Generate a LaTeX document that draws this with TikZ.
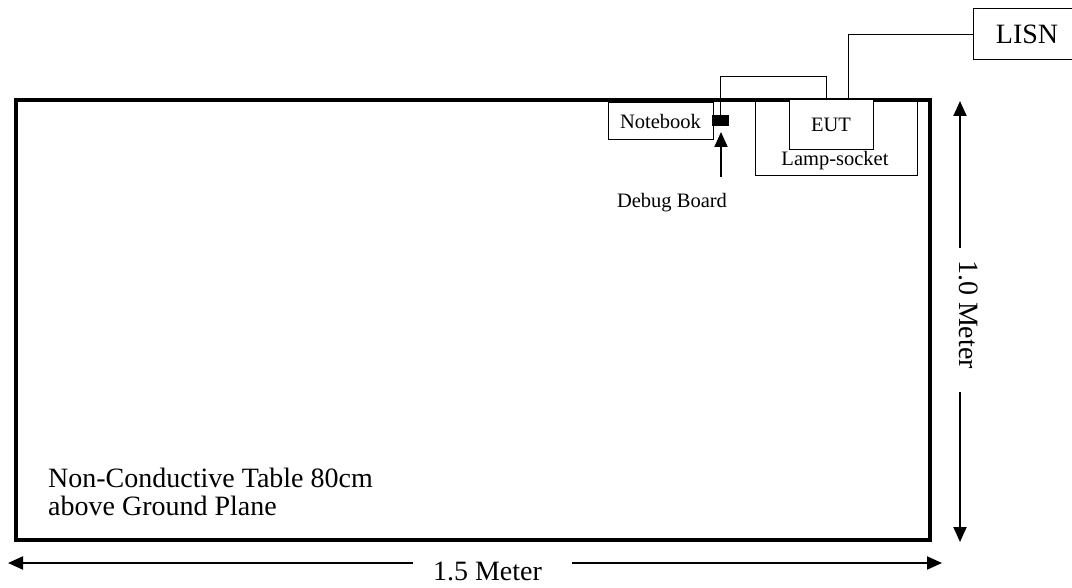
\documentclass[tikz,border=0pt]{standalone}
\usepackage{fontspec}
\setmainfont{Liberation Serif}
\usetikzlibrary{arrows.meta}
\begin{document}
\begin{tikzpicture}[x=1pt,y=-1pt,
  thin box/.style={draw,line width=1pt,inner sep=0pt},
  big/.style={font=\fontsize{28}{28}\selectfont},
  small/.style={font=\fontsize{20.5}{22}\selectfont},
  cable/.style={line width=1pt},
  ptr/.style={line width=2pt,-{Triangle[width=13pt,length=15pt]}},
  ptrback/.style={line width=2pt,{Triangle[width=13pt,length=15pt]}-}]
\useasboundingbox (0,0) rectangle (1072,588);
% table
\draw[line width=3.5pt] (16,100) rectangle (930,540);
\node[big,anchor=base west,align=left,inner sep=0pt] (tabletext) at (48,515) {Non-Conductive Table 80cm\\above Ground Plane};
% notebook
\node[thin box,minimum width=105pt,minimum height=37pt,small] (nb) at (660.5,121.5) {Notebook};
% debug board
\node[draw,fill=black,inner sep=0pt,minimum width=16pt,minimum height=10pt] (db) at (720.5,120.5) {};
\coordinate (dbtop) at (720,115);
\node[small,anchor=base,inner sep=0pt] (dbtext) at (672,208) {Debug Board};
\coordinate (dbarrow) at (721,177);
\coordinate (dbtip) at (721,132);
\draw[ptr] (dbarrow) -- (dbtip);
% lamp socket
\node[thin box,minimum width=162pt,minimum height=74pt] (lamp) at (836,139) {};
\node[small,anchor=base,inner sep=0pt] (lamptext) at (835,166) {Lamp-socket};
% EUT
\node[thin box,fill=white,minimum width=84pt,minimum height=50pt,small] (eut) at (831,125) {EUT};
% LISN
\node[thin box,minimum width=108pt,minimum height=51pt,big] (lisn) at (1027,34.5) {LISN};
% cables
\draw[cable] (dbtop) |- (826,77) -- (826,100);
\draw[cable] (lisn.west) -| (848,100);
% dimension arrows
\coordinate (hl) at (8,563);
\coordinate (hr) at (942,563);
\coordinate (hg1) at (413,563);
\coordinate (hg2) at (572,563);
\node[big,anchor=base,inner sep=0pt] (hlab) at (487.5,580) {1.5 Meter};
\draw[ptrback] (hl) -- (hg1);
\draw[ptr] (hg2) -- (hr);
\coordinate (vt) at (960,101);
\coordinate (vb) at (960,542);
\coordinate (vg1) at (960,248);
\coordinate (vg2) at (960,392);
\node[big,rotate=-90] (vlab) at (969,314.5) {1.0 Meter};
\draw[ptrback] (vt) -- (vg1);
\draw[ptr] (vg2) -- (vb);
\end{tikzpicture}
\end{document}
